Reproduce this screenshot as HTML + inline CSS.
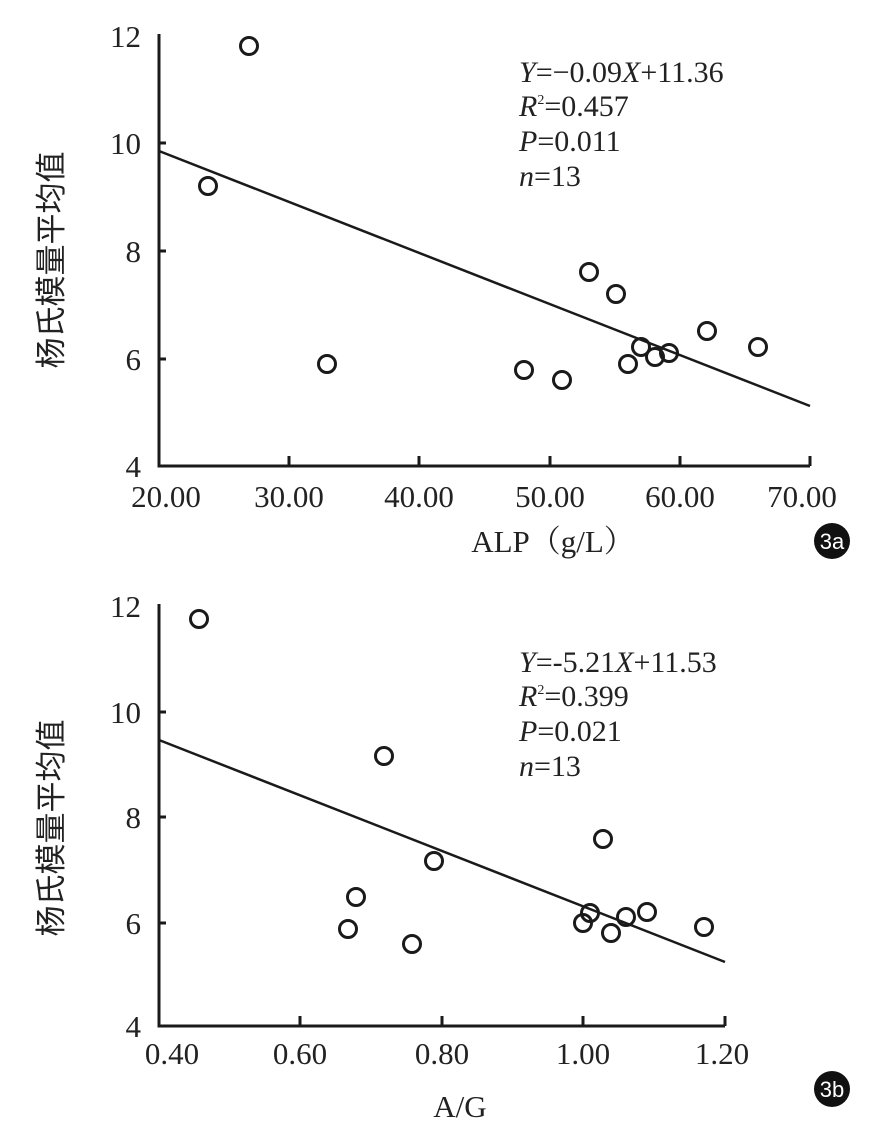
<!DOCTYPE html>
<html><head><meta charset="utf-8"><style>body{margin:0;background:#fff}</style></head><body>
<svg width="879" height="1126" viewBox="0 0 879 1126" xmlns="http://www.w3.org/2000/svg" font-family="Liberation Serif, serif" fill="#222">
<g stroke="#1a1a1a" stroke-width="3" fill="none">
<path d="M159,34 V466 H810"/>
<path d="M159,143 h7 M159,251 h7 M159,359 h7 M289,466 v-10 M419,466 v-10 M550,466 v-10 M680,466 v-10 M810,466 v-10"/>
<path d="M159,151 L810,406" stroke-width="2.5"/>
<g stroke-width="3">
<circle cx="208" cy="186" r="8.5"/><circle cx="249" cy="46" r="8.5"/><circle cx="327" cy="364" r="8.5"/><circle cx="524" cy="370" r="8.5"/><circle cx="562" cy="380" r="8.5"/><circle cx="589" cy="272" r="8.5"/><circle cx="616" cy="294" r="8.5"/><circle cx="628" cy="364" r="8.5"/><circle cx="641" cy="347" r="8.5"/><circle cx="655" cy="357" r="8.5"/><circle cx="669" cy="353" r="8.5"/><circle cx="707" cy="331" r="8.5"/><circle cx="758" cy="347" r="8.5"/>
</g>
<path d="M159,604 V1026 H725"/>
<path d="M159,712 h7 M159,817 h7 M159,923 h7 M300,1026 v-10 M442,1026 v-10 M583,1026 v-10 M725,1026 v-10"/>
<path d="M159,740 L725,962" stroke-width="2.5"/>
<g stroke-width="3">
<circle cx="199" cy="619" r="8.5"/><circle cx="384" cy="756" r="8.5"/><circle cx="356" cy="897" r="8.5"/><circle cx="348" cy="929" r="8.5"/><circle cx="412" cy="944" r="8.5"/><circle cx="434" cy="861" r="8.5"/><circle cx="603" cy="839" r="8.5"/><circle cx="583" cy="923" r="8.5"/><circle cx="590" cy="913" r="8.5"/><circle cx="611" cy="933" r="8.5"/><circle cx="626" cy="917" r="8.5"/><circle cx="647" cy="912" r="8.5"/><circle cx="704" cy="927" r="8.5"/>
</g>
</g>
<g font-size="31" text-anchor="end">
<text x="141" y="47">12</text><text x="141" y="154">10</text><text x="141" y="262">8</text><text x="141" y="370">6</text><text x="141" y="477">4</text>
<text x="141" y="617">12</text><text x="141" y="723">10</text><text x="141" y="828">8</text><text x="141" y="934">6</text><text x="141" y="1037">4</text>
</g>
<g font-size="31" text-anchor="middle">
<text x="166" y="507">20.00</text><text x="289" y="507">30.00</text><text x="419" y="507">40.00</text><text x="550" y="507">50.00</text><text x="680" y="507">60.00</text><text x="802" y="507">70.00</text>
<text x="172" y="1064">0.40</text><text x="300" y="1064">0.60</text><text x="442" y="1064">0.80</text><text x="583" y="1064">1.00</text><text x="722" y="1064">1.20</text>
<text x="553" y="552" font-family="Liberation Serif, Noto Serif CJK SC, serif">ALP（g/L）</text>
<text x="460" y="1117">A/G</text>
</g>
<g font-family="Liberation Sans, Noto Sans CJK SC, sans-serif" font-size="31" text-anchor="middle">
<text transform="translate(62,260) rotate(-90)">杨氏模量平均值</text>
<text transform="translate(62,828) rotate(-90)">杨氏模量平均值</text>
</g>
<g font-size="30">
<text x="519" y="82"><tspan font-style="italic">Y</tspan>=−0.09<tspan font-style="italic">X</tspan>+11.36</text>
<text x="519" y="116"><tspan font-style="italic">R</tspan><tspan font-size="14" dy="-12">2</tspan><tspan dy="12">=0.457</tspan></text>
<text x="519" y="151"><tspan font-style="italic">P</tspan>=0.011</text>
<text x="519" y="186"><tspan font-style="italic">n</tspan>=13</text>
<text x="519" y="672"><tspan font-style="italic">Y</tspan>=-5.21<tspan font-style="italic">X</tspan>+11.53</text>
<text x="519" y="706"><tspan font-style="italic">R</tspan><tspan font-size="14" dy="-12">2</tspan><tspan dy="12">=0.399</tspan></text>
<text x="519" y="741"><tspan font-style="italic">P</tspan>=0.021</text>
<text x="519" y="776"><tspan font-style="italic">n</tspan>=13</text>
</g>
<circle cx="832" cy="541" r="18" fill="#111"/>
<text x="832" y="549" fill="#fff" font-family="Liberation Sans, sans-serif" font-size="22" text-anchor="middle">3a</text>
<circle cx="832" cy="1089" r="18" fill="#111"/>
<text x="832" y="1097" fill="#fff" font-family="Liberation Sans, sans-serif" font-size="22" text-anchor="middle">3b</text>
</svg>
</body></html>
